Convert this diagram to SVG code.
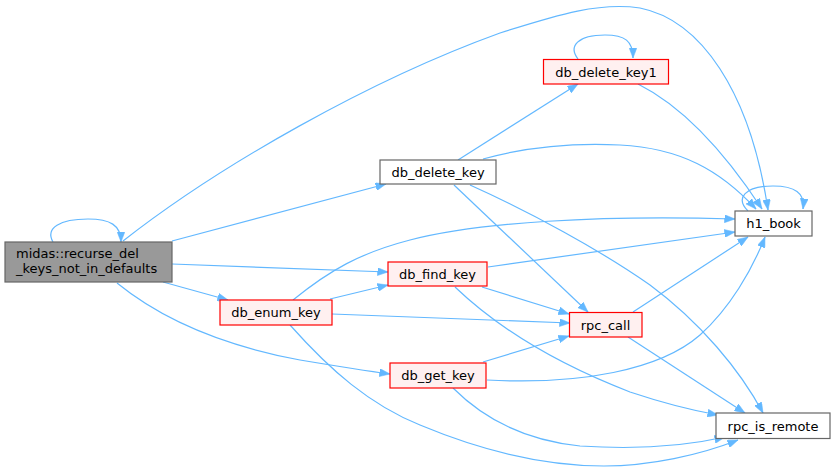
<svg xmlns="http://www.w3.org/2000/svg" width="836" height="472" viewBox="0 0 836 472">
<style>
text{font-family:"DejaVu Sans",sans-serif;font-size:13px;fill:#000}
.c{text-anchor:middle}
.n rect{stroke:#666;stroke-width:1.2;fill:#fff}
.n.r rect{stroke:#ff0000;fill:#fff0f0}
.n.m rect{fill:#999;stroke:#666}
#edges path{fill:none;stroke:#63b8ff;stroke-width:1.2;marker-end:url(#a)}
</style>
<defs>
<marker id="a" markerUnits="userSpaceOnUse" markerWidth="11" markerHeight="8" refX="10.5" refY="4" orient="auto">
<path d="M0,0 L10.5,4 L0,8 z" fill="#63b8ff" stroke="#63b8ff" stroke-width="0.5"/>
</marker>
</defs>
<rect width="836" height="472" fill="#fff"/>
<g id="edges">
<path d="M53,242 C45,228 60,219 88,219 C110,219 121,225 121,242"/>
<path d="M123,241 C220,165 370,80 500,33 C560,14 600,2 640,8 C700,20 750,90 768,210"/>
<path d="M172,241 L386,184"/>
<path d="M172,264 L388,272"/>
<path d="M163,282 L228,300"/>
<path d="M117,283 C160,318 220,345 300,360 C330,365 360,370 390,374"/>
<path d="M330,299 L388,285"/>
<path d="M332,314 L570,323"/>
<path d="M293,300 C330,270 360,253 410,240 C480,222 600,215 735,219"/>
<path d="M290,325 C330,370 370,405 420,425 C480,450 540,466 604,466 C650,466 700,455 738,440"/>
<path d="M482,287 L569,314"/>
<path d="M455,287 C500,330 560,365 630,392 C660,402 690,410 718,415"/>
<path d="M458,160 L578,84"/>
<path d="M483,159 C530,146 580,143 620,145 C680,148 720,170 756,209"/>
<path d="M454,185 L588,312"/>
<path d="M470,185 C530,212 600,250 650,285 C700,322 740,370 763,413"/>
<path d="M578,59 C568,46 578,35 605,35 C625,35 633,41 633,58"/>
<path d="M638,84 C680,105 720,145 762,209"/>
<path d="M488,267 L735,232"/>
<path d="M633,312 L748,237"/>
<path d="M628,337 L745,413"/>
<path d="M483,362 L569,336"/>
<path d="M487,380 C580,385 660,370 700,335 C730,308 752,270 765,237"/>
<path d="M453,388 C480,415 520,440 580,446 C640,450 690,445 725,437"/>
<path d="M748,211 C735,198 745,186 773,186 C795,186 805,193 803,209"/>
</g>
<g id="main" class="n m"><rect x="5" y="242" width="167" height="40"/><text x="16" y="257.5">midas::recurse_del</text><text x="16" y="272.5">_keys_not_in_defaults</text></g>
<g id="db_delete_key" class="n"><rect x="380" y="160" width="116" height="24"/><text class="c" x="438" y="176.5">db_delete_key</text></g>
<g id="db_delete_key1" class="n r"><rect x="543.5" y="59.5" width="125" height="24.5"/><text class="c" x="606" y="76.5">db_delete_key1</text></g>
<g id="db_find_key" class="n r"><rect x="388" y="262" width="99" height="24"/><text class="c" x="437.5" y="278.5">db_find_key</text></g>
<g id="db_enum_key" class="n r"><rect x="220" y="300" width="112" height="25"/><text class="c" x="276" y="317">db_enum_key</text></g>
<g id="rpc_call" class="n r"><rect x="569.5" y="312.5" width="72.5" height="24.5"/><text class="c" x="605.5" y="329.5">rpc_call</text></g>
<g id="db_get_key" class="n r"><rect x="390" y="363" width="96" height="25"/><text class="c" x="438" y="380">db_get_key</text></g>
<g id="h1_book" class="n"><rect x="735" y="211" width="77" height="25"/><text class="c" x="773.5" y="228">h1_book</text></g>
<g id="rpc_is_remote" class="n"><rect x="716" y="413" width="114" height="25.5"/><text class="c" x="773" y="430.5">rpc_is_remote</text></g>
</svg>
